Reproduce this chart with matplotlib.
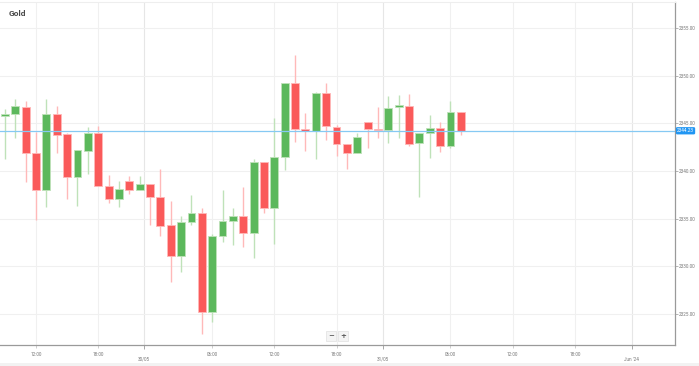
import matplotlib
matplotlib.use("Agg")
import matplotlib.pyplot as plt
from matplotlib.patches import Rectangle

# ---- data (hourly candles) ----
opens  = [2345.81, 2345.99, 2346.75, 2341.87, 2338.02, 2345.99, 2343.86, 2339.41, 2342.14, 2343.96,
          2338.47, 2337.08, 2338.96, 2337.99, 2338.70, 2337.25, 2334.30, 2331.10, 2334.70, 2335.58,
          2325.26, 2333.20, 2334.77, 2335.33, 2333.48, 2340.99, 2336.16, 2341.51, 2349.27, 2344.41,
          2344.20, 2348.16, 2344.65, 2342.84, 2341.87, 2345.12, 2344.44, 2344.31, 2346.69, 2346.86,
          2342.91, 2344.03, 2344.49, 2342.63, 2346.16]
highs  = [2346.51, 2347.56, 2347.35, 2344.13, 2347.56, 2346.86, 2344.03, 2342.21, 2344.62, 2344.73,
          2339.59, 2338.99, 2339.49, 2339.49, 2338.70, 2340.22, 2336.90, 2335.33, 2337.49, 2336.16,
          2333.41, 2338.02, 2336.10, 2338.37, 2341.24, 2340.99, 2345.53, 2349.27, 2352.17, 2346.12,
          2348.32, 2349.20, 2344.83, 2342.84, 2343.96, 2345.12, 2346.75, 2347.87, 2347.98, 2348.08,
          2343.96, 2345.88, 2345.18, 2347.38, 2346.16]
lows   = [2341.24, 2343.44, 2338.83, 2334.87, 2336.21, 2341.87, 2337.04, 2336.34, 2339.70, 2338.47,
          2336.69, 2336.21, 2337.60, 2337.99, 2334.35, 2333.20, 2328.34, 2329.46, 2334.32, 2322.89,
          2324.21, 2332.60, 2332.25, 2332.01, 2330.92, 2335.58, 2332.33, 2340.12, 2343.08, 2342.14,
          2341.24, 2343.26, 2341.61, 2340.19, 2341.87, 2342.39, 2343.44, 2342.91, 2343.44, 2342.63,
          2337.32, 2341.34, 2342.03, 2342.39, 2343.78]
closes = [2345.95, 2346.82, 2341.93, 2338.02, 2345.99, 2343.78, 2339.41, 2342.21, 2343.96, 2338.47,
          2337.08, 2338.12, 2338.02, 2338.68, 2337.25, 2334.28, 2331.10, 2334.70, 2335.58, 2325.26,
          2333.20, 2334.77, 2335.33, 2333.48, 2340.99, 2336.16, 2341.51, 2349.27, 2344.38, 2344.20,
          2348.16, 2344.76, 2342.84, 2341.87, 2343.61, 2344.41, 2344.28, 2346.65, 2346.90, 2342.84,
          2343.96, 2344.49, 2342.66, 2346.16, 2344.23]

time_tick_pos = [3, 9, 20, 26, 32, 43, 49, 55]
time_tick_labels = ["12:00", "18:00", "06:00", "12:00", "18:00", "06:00", "12:00", "18:00"]
day_tick_pos = [13.4, 36.5, 60.5]
day_tick_labels = ["30/05", "31/05", "Jun '24"]
price_ticks = [2325, 2330, 2335, 2340, 2345, 2350, 2355]
title = "Gold"

plt.rcParams['font.family'] = ['Roboto', 'DejaVu Sans']

W, H = 699, 366
fig = plt.figure(figsize=(W / 100, H / 100), dpi=100)
ax = fig.add_axes([0, 21 / H, 675 / W, (345 - 2) / H])

# bottom grey band
fig.patches.append(Rectangle((0, 0), 1, 3 / H, transform=fig.transFigure,
                             facecolor="#f2f2f2", edgecolor="none", zorder=0))

GREEN = "#5cb85c"
RED = "#fa5a5a"
GREEN_W = "#bfe2b9"
RED_W = "#ffb9b9"

bw = 0.76
for i, (o, h, l, c) in enumerate(zip(opens, highs, lows, closes)):
    up = c >= o
    col = GREEN if up else RED
    wcol = GREEN_W if up else RED_W
    ax.vlines(i, l, h, color=wcol, linewidth=1.0, zorder=2)
    bottom = min(o, c)
    height = max(abs(c - o), 0.18)
    ax.bar(i, height, bottom=bottom, width=bw, color=col,
           edgecolor=wcol, linewidth=0.6, zorder=3)

# last price line
last = closes[-1]
ax.axhline(last, color="#86c9f3", linewidth=0.9, zorder=4)
ax.text(1.003, last, f"{last:.2f}", transform=ax.get_yaxis_transform(),
        fontsize=3.3, color="white", va="center", ha="left", zorder=6,
        bbox=dict(boxstyle="round,pad=0.25,rounding_size=0.3", fc="#2196f3", ec="none"),
        clip_on=False)

ax.set_xlim(-0.48, 64.67)
ax.set_ylim(2321.77, 2357.73)

# y axis on right
ax.yaxis.tick_right()
ax.set_yticks(price_ticks)
ax.set_yticklabels([f"{p:.2f}" for p in price_ticks])
ax.tick_params(axis="y", labelsize=3.3, labelcolor="#777777", color="#999999",
               length=2, width=0.5, pad=1)

# x axis
ax.set_xticks(time_tick_pos)
ax.set_xticklabels(time_tick_labels)
ax.set_xticks(day_tick_pos, minor=True)
ax.set_xticklabels(day_tick_labels, minor=True)
ax.tick_params(axis="x", which="major", labelsize=3.3, labelcolor="#777777",
               color="#bbbbbb", length=2, width=0.5, pad=3)
ax.tick_params(axis="x", which="minor", labelsize=3.3, labelcolor="#777777",
               color="#999999", length=3, width=0.6, pad=5.5)
for t in ax.xaxis.get_minor_ticks():
    t.tick1line.set_linestyle((0, (1, 1)))

ax.grid(True, which="major", color="#f0f0f0", linewidth=0.8, zorder=0)
ax.grid(True, which="minor", axis="x", color="#e6e6e6", linewidth=0.8, zorder=0)
ax.set_axisbelow(True)

ax.spines["left"].set_visible(False)
ax.spines["top"].set_color("#eeeeee")
ax.spines["top"].set_linewidth(0.8)
ax.spines["right"].set_color("#9a9a9a")
ax.spines["right"].set_linewidth(0.9)
ax.spines["bottom"].set_color("#9a9a9a")
ax.spines["bottom"].set_linewidth(0.9)

# title
ax.text(9 / 675, 1 - 11 / 343, title, transform=ax.transAxes, fontsize=6,
        fontweight="bold", color="#4a4a4a", va="center", ha="left")

# zoom buttons
for xp, sym in [(331, "\u2212"), (343, "+")]:
    fig.text(xp / W, 1 - 336 / H, sym, fontsize=5, color="#555555", ha="center",
             va="center", fontweight="bold", family=["DejaVu Sans"],
             bbox=dict(boxstyle="square,pad=0.25", fc="#f4f4f4", ec="#e0e0e0", lw=0.5))

fig.savefig("out.png", dpi=100, facecolor="white")
